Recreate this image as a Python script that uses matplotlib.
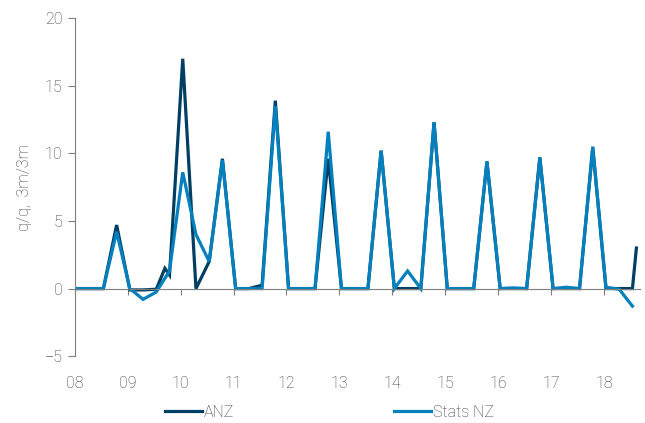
import numpy as np
import matplotlib.pyplot as plt

plt.rcParams['font.family'] = ['Roboto', 'DejaVu Sans']

# quarterly, 2008 Q1 .. 2018 Q3
stats_nz = [0, 0, 0, 4.2, 0, -0.8, -0.25, 1.3, 8.6, 4.0, 2.0, 9.5,
            0, 0, 0, 13.5, 0, 0, 0, 11.6, 0, 0, 0, 10.2,
            0, 1.3, 0, 12.3, 0, 0, 0, 9.4, 0, 0.05, 0, 9.7,
            0, 0.1, 0, 10.5, 0.1, -0.05, -1.3]

# ANZ has two extra in-between points (quarter index, value)
anz_q = [0, 1, 2, 3, 4, 5, 6, 6.65, 7, 8, 9, 10, 11,
         12, 13, 14, 15, 16, 17, 18, 19, 20, 21, 22, 23,
         24, 25, 26, 27, 28, 29, 30, 31, 32, 33, 34, 35,
         36, 37, 38, 39, 40, 41, 42, 42.3]
anz = [0, 0, 0, 4.7, -0.1, -0.1, -0.05, 1.5, 1.0, 17.0, 0, 2.0, 9.6,
       0, 0, 0.25, 13.9, 0, 0, 0, 9.6, 0, 0, 0, 10.2,
       0, 0, 0, 12.3, 0, 0, 0, 9.4, 0, 0, 0, 9.7,
       0, 0, 0, 10.4, 0, 0, 0, 3.0]

year_labels = ['08', '09', '10', '11', '12', '13', '14', '15', '16', '17', '18']

start = 2008.04
x_stats = start + 0.25 * np.arange(len(stats_nz))
x_anz = start + 0.25 * np.array(anz_q)

grey = '#7f7f7f'
txt = '#3a3a3a'

fig = plt.figure(figsize=(6.45, 4.23), dpi=100)
ax = fig.add_axes([0.116, 0.158, 0.876, 0.799])

ax.plot(x_anz, anz, color='#003F63', lw=2.3, label='ANZ', solid_joinstyle='miter')
ax.plot(x_stats, stats_nz, color='#0580BE', lw=2.3, label='Stats NZ', solid_joinstyle='miter')

ax.set_xlim(2008, 2018.68)
ax.set_ylim(-5, 20)
ax.set_yticks(np.arange(-5, 21, 5))
ax.set_xticks(np.arange(2008, 2019), year_labels)

for s in ['top', 'right']:
    ax.spines[s].set_visible(False)
ax.spines['bottom'].set_position(('data', 0))
ax.spines['bottom'].set_color(grey)
ax.spines['left'].set_color(grey)

ax.tick_params(axis='x', length=4, color=grey, pad=59, labelsize=11.5, labelcolor=txt)
ax.tick_params(axis='y', length=5, color=grey, pad=4, labelsize=11.5, labelcolor=txt)
for t in ax.get_xticklabels() + ax.get_yticklabels():
    t.set_fontweight('light')

ax.set_ylabel('q/q,  3m/3m', fontsize=11.5, color=txt, fontweight='light', labelpad=9)

leg = fig.legend(loc='center', bbox_to_anchor=(0.511, 0.026), ncol=2, frameon=False,
                 fontsize=11.5, handlelength=2.3, handletextpad=0.15, columnspacing=10.0,
                 labelcolor=txt)
for t in leg.get_texts():
    t.set_fontweight('light')

fig.savefig('out.png', dpi=100)
